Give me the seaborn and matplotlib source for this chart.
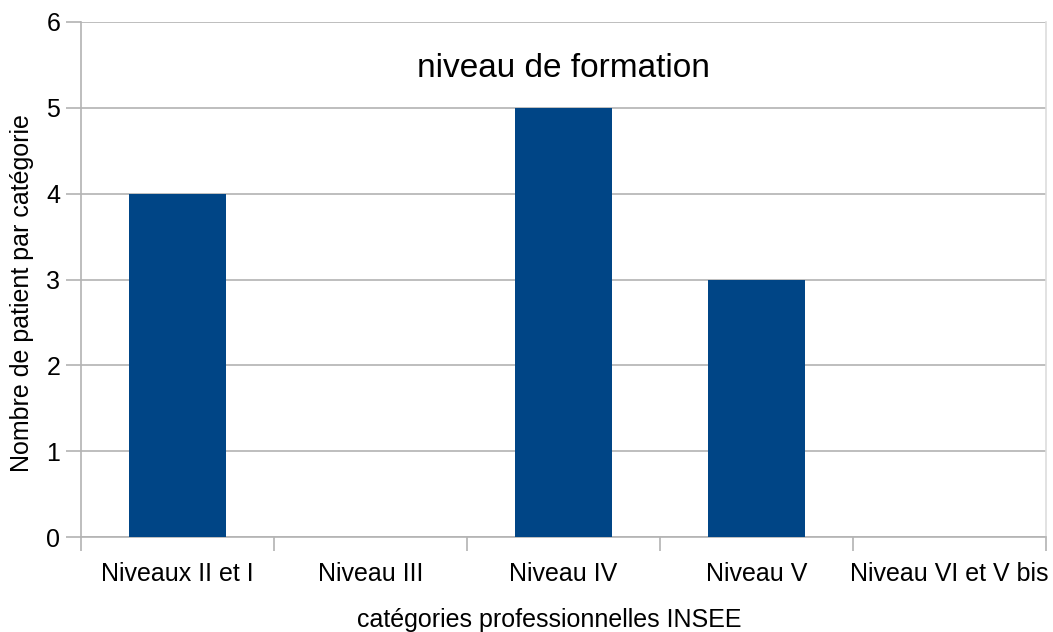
import numpy as np
import pandas as pd
import matplotlib
matplotlib.use("Agg")
import matplotlib.pyplot as plt
import seaborn as sns

categories = ["Niveaux II et I", "Niveau III", "Niveau IV", "Niveau V", "Niveau VI et V bis"]
counts = [4, 0, 5, 3, 0]
y_ticks = [0, 1, 2, 3, 4, 5, 6]

df = pd.DataFrame({"categorie": categories, "n": counts})

sns.set_style("white")
plt.rcParams["font.family"] = ["Liberation Sans", "DejaVu Sans"]
plt.rcParams["text.color"] = "black"
plt.rcParams["axes.labelcolor"] = "black"
plt.rcParams["xtick.color"] = "black"
plt.rcParams["ytick.color"] = "black"

grid_col = "#b3b3b3"
fig = plt.figure(figsize=(10.53, 6.32), dpi=100)
ax = fig.add_axes([0.0769, 0.1503, 0.9165, 0.8149])

sns.barplot(data=df, x="categorie", y="n", color="#004586", width=0.5,
            saturation=1, linewidth=0, ax=ax, zorder=3)

ax.set_xlim(-0.5, len(categories) - 0.5)
ax.set_ylim(0, 6)
ax.set_yticks(y_ticks)
ax.yaxis.grid(True, color=grid_col, linewidth=1.2, zorder=0)
ax.set_axisbelow(True)

# category boundary ticks on x axis
ax.set_xticks(np.arange(-0.5, len(categories)), minor=True)
ax.tick_params(axis="x", which="major", bottom=True, length=0, pad=18, labelsize=18)
ax.tick_params(axis="x", which="minor", bottom=True, length=10, width=1.2,
               color=grid_col, direction="out")
ax.tick_params(axis="y", left=True, length=11, width=1.2, color=grid_col,
               labelsize=18, pad=4, direction="out")

for side in ["left", "bottom"]:
    ax.spines[side].set_color(grid_col)
    ax.spines[side].set_linewidth(1.2)
ax.spines["top"].set_visible(False)
ax.spines["right"].set_color("#dddddd")
ax.spines["right"].set_linewidth(1.2)

ax.set_xlabel("catégories professionnelles INSEE", fontsize=18)
ax.set_ylabel("Nombre de patient par catégorie", fontsize=18)
ax.xaxis.label.set_va("center")
ax.yaxis.label.set_va("center")
ax.xaxis.set_label_coords(0.485, -0.161)
ax.yaxis.set_label_coords(-0.061, 0.474)
ax.text(0.5, 0.91, "niveau de formation", transform=ax.transAxes,
        ha="center", va="center", fontsize=24)

plt.savefig("out.png", dpi=100)
plt.close()
